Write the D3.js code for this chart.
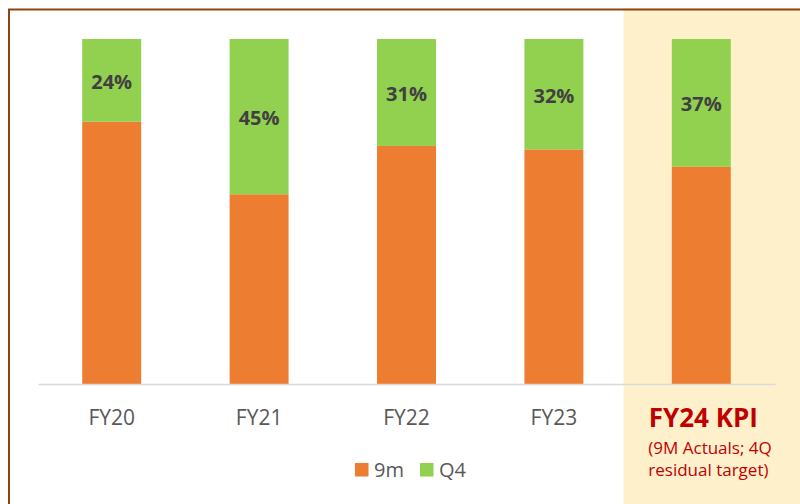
<!DOCTYPE html>
<html><head><meta charset="utf-8">
<script src="https://cdn.jsdelivr.net/npm/d3@7/dist/d3.min.js"></script>
<style>body{margin:0;background:#fff;}svg{display:block;font-family:"Open Sans","Noto Sans",sans-serif;}</style>
</head><body><svg id="c" width="800" height="504"></svg>
<script>
const categories = ["FY20","FY21","FY22","FY23","FY24 KPI"];
const nineM = [76,55,69,68,63];
const q4 = [24,45,31,32,37];
const q4Labels = ["24%","45%","31%","32%","37%"];
const seriesNames = ["9m","Q4"];
const seriesColors = ["#ED7D31","#92D050"];
const kpiNote = ["(9M Actuals; 4Q","residual target)"];

(function(){
const svg = d3.select("#c");
const W=800,H=504;
const pLeft=38,pRight=775,pTop=39,pBottom=384;

const x = d3.scaleBand().domain(categories).range([pLeft,pRight]).paddingInner(0.6).paddingOuter(0.3);
const y = d3.scaleLinear().domain([0,100]).range([pBottom,pTop]);
const step = x.step();
const lastCenter = x("FY24 KPI")+x.bandwidth()/2;
svg.append("rect").attr("x",lastCenter-step/2-4).attr("y",8).attr("width",W).attr("height",H).attr("fill","#FFF0CC");

svg.append("path").attr("d",`M9,${H} L9,9.5 L${W},9.5`).attr("fill","none").attr("stroke","#8B4513").attr("stroke-width",2);

const data = categories.map((c,i)=>({cat:c,"9m":nineM[i],"Q4":q4[i]}));
const stack = d3.stack().keys(seriesNames)(data);
const g = svg.append("g");
stack.forEach((s,si)=>{
  g.selectAll(null).data(s).enter().append("rect")
   .attr("x",d=>x(d.data.cat)).attr("width",x.bandwidth())
   .attr("y",d=>y(d[1])).attr("height",d=>y(d[0])-y(d[1]))
   .attr("fill",seriesColors[si]);
});
g.selectAll(null).data(stack[1]).enter().append("text")
 .attr("x",d=>x(d.data.cat)+x.bandwidth()/2)
 .attr("y",d=>(y(d[0])+y(d[1]))/2)
 .attr("dy","0.42em").attr("text-anchor","middle")
 .attr("font-size",20).attr("font-weight","bold").attr("fill","#404040")
 .text((d,i)=>q4Labels[i]);

const ax = svg.append("g").attr("transform",`translate(0,${pBottom})`).call(d3.axisBottom(x).tickSize(0).tickFormat(()=>""));
ax.select(".domain").attr("stroke","#D9D9D9").attr("stroke-width",1.5);
categories.forEach((c,i)=>{
  const cx = x(c)+x.bandwidth()/2;
  if(i<categories.length-1){
    svg.append("text").attr("x",cx).attr("y",425).attr("text-anchor","middle")
      .attr("font-size",21).attr("fill","#595959").text(c);
  } else {
    svg.append("text").attr("x",cx+2).attr("y",427).attr("text-anchor","middle")
      .attr("font-size",26).attr("font-weight","bold").attr("fill","#C00000").text(c);
    svg.append("text").attr("x",cx-53).attr("y",454).attr("text-anchor","start")
      .attr("font-size",17).attr("fill","#C00000").text(kpiNote[0]);
    svg.append("text").attr("x",cx-53).attr("y",476).attr("text-anchor","start")
      .attr("font-size",17).attr("fill","#C00000").text(kpiNote[1]);
  }
});

const legX = [355,420];
seriesNames.forEach((n,i)=>{
  svg.append("rect").attr("x",legX[i]).attr("y",463).attr("width",13.5).attr("height",13.5).attr("fill",seriesColors[i]);
  svg.append("text").attr("x",legX[i]+19).attr("y",477).attr("font-size",20).attr("fill","#595959").text(n);
});
})();
</script></body></html>
